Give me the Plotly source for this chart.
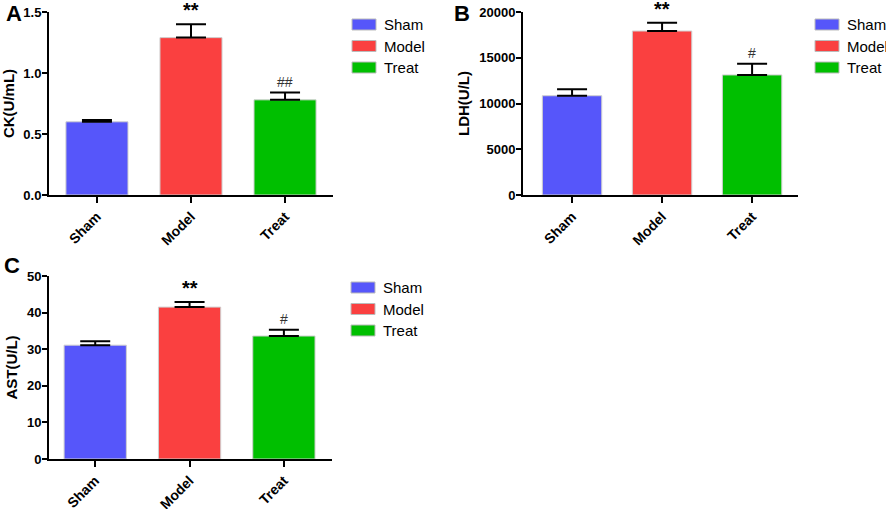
import plotly.graph_objects as go

W, H = 886, 509

groups = ["Sham", "Model", "Treat"]
colors = ["#5656FA", "#FA4040", "#00BF00"]

ck_mean = [0.60, 1.29, 0.78]
ck_err = [0.015, 0.11, 0.06]
ck_sig = ["", "**", "##"]

ldh_mean = [10850, 17920, 13120]
ldh_err = [700, 910, 1230]
ldh_sig = ["", "**", "#"]

ast_mean = [31.1, 41.5, 33.6]
ast_err = [1.1, 1.4, 1.7]
ast_sig = ["", "**", "#"]

panels = [
    dict(letter="A", mean=ck_mean, err=ck_err, sig=ck_sig, title="CK(U/mL)",
         yrange=[0, 1.5], dtick=0.5, fmt=".1f",
         px=(49, 333), py=(12, 195), xr=[-0.51, 2.51], letter_pos=(14, 14), leg=(352, 19)),
    dict(letter="B", mean=ldh_mean, err=ldh_err, sig=ldh_sig, title="LDH(U/L)",
         yrange=[0, 20000], dtick=5000, fmt="d",
         px=(523, 798), py=(12, 195), xr=[-0.545, 2.51], letter_pos=(462, 13), leg=(815, 19)),
    dict(letter="C", mean=ast_mean, err=ast_err, sig=ast_sig, title="AST(U/L)",
         yrange=[0, 50], dtick=10, fmt="d",
         px=(49, 332), py=(276, 459), xr=[-0.49, 2.51], letter_pos=(12, 265), leg=(351, 282)),
]

fig = go.Figure()
font_family = "Liberation Sans, Arial, sans-serif"

for i, p in enumerate(panels):
    sfx = "" if i == 0 else str(i + 1)
    xa, ya = "x" + sfx, "y" + sfx
    fig.add_trace(go.Bar(
        x=groups, y=p["mean"], xaxis=xa, yaxis=ya,
        marker=dict(color=colors, line=dict(color="#cfcfcf", width=1)),
        width=0.66,
        error_y=dict(type="data", symmetric=False, array=p["err"],
                     arrayminus=[0] * 3, color="black", thickness=2, width=15),
        showlegend=False,
    ))
    x0, x1 = p["px"]
    y0, y1 = p["py"]
    fig.layout["xaxis" + sfx] = dict(
        domain=[x0 / W, x1 / W], anchor=ya, range=p["xr"], automargin=False,
        showline=True, linecolor="black", linewidth=2,
        ticks="outside", ticklen=6, tickwidth=2, tickcolor="black",
        tickangle=-45, tickfont=dict(family=font_family, size=14, color="black", weight="bold"),
        showgrid=False, zeroline=False, fixedrange=True,
    )
    fig.layout["yaxis" + sfx] = dict(
        domain=[1 - y1 / H, 1 - y0 / H], anchor=xa, range=p["yrange"], automargin=False,
        dtick=p["dtick"], tickformat=p["fmt"],
        showline=True, linecolor="black", linewidth=2,
        ticks="outside", ticklen=5, tickwidth=2, tickcolor="black", ticklabelstandoff=-2,
        tickfont=dict(family=font_family, size=13, color="black", weight="bold"),
        title=dict(text=p["title"], font=dict(family=font_family, size=15, color="black", weight="bold"),
                   standoff=6),
        showgrid=False, zeroline=False, fixedrange=True,
    )
    # significance marks
    for g, m, e, s in zip(groups, p["mean"], p["err"], p["sig"]):
        if s:
            fig.add_annotation(x=g, y=m + e, xref=xa, yref=ya, text=s, showarrow=False,
                               yanchor="bottom", yshift=1,
                               font=dict(family=font_family,
                                         size=20 if s == "**" else 14,
                                         color="black" if s == "**" else "#333333",
                                         weight="bold" if s == "**" else "normal"))
    # panel letter
    lx, ly = p["letter_pos"]
    fig.add_annotation(x=lx / W, y=1 - ly / H, xref="paper", yref="paper", text=p["letter"],
                       showarrow=False, xanchor="center", yanchor="middle",
                       font=dict(family=font_family, size=22, color="black", weight="bold"))
    # legend
    gx, gy = p["leg"]
    for k, (g, c) in enumerate(zip(groups, colors)):
        top = gy + k * 21.5
        fig.add_shape(type="rect", xref="paper", yref="paper",
                      x0=gx / W, x1=(gx + 24) / W, y0=1 - (top + 11) / H, y1=1 - top / H,
                      fillcolor=c, line=dict(color="#bbbbbb", width=1))
        fig.add_annotation(x=(gx + 30) / W, y=1 - (top + 5.5) / H, xref="paper", yref="paper",
                           text=g, showarrow=False, xanchor="left", yanchor="middle",
                           font=dict(family=font_family, size=15, color="black"))

fig.update_layout(width=W, height=H, margin=dict(l=0, r=0, t=0, b=0),
                  plot_bgcolor="white", paper_bgcolor="white", bargap=0.34)
fig.write_html("out.html", config={"displayModeBar": False, "staticPlot": True},
               post_script="document.body.style.margin='0';document.body.style.overflow='hidden';")
